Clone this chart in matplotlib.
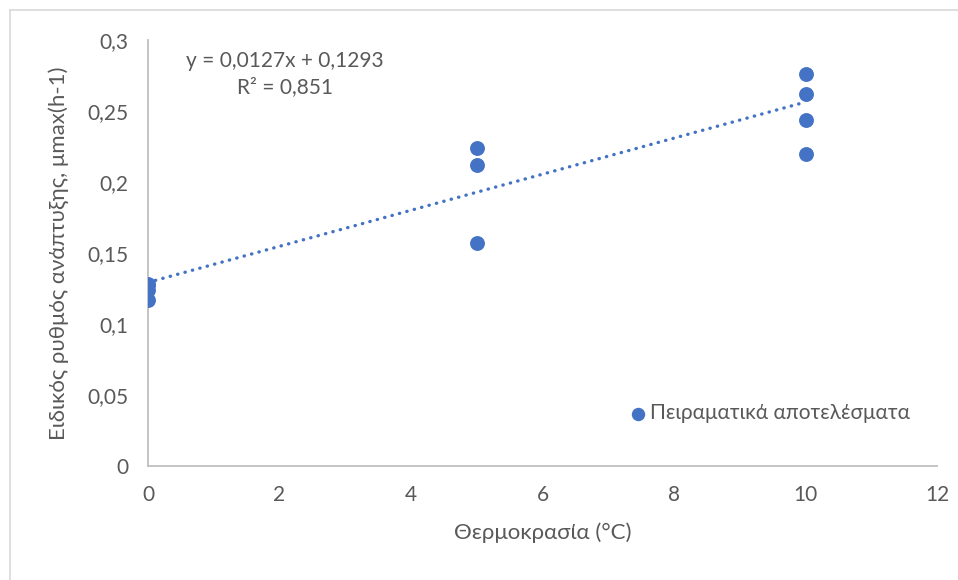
import numpy as np
import matplotlib.pyplot as plt
from matplotlib.lines import Line2D
from matplotlib.ticker import FixedLocator

plt.rcParams["font.family"] = ["Lato", "Open Sans", "DejaVu Sans"]

# πειραματικά δεδομένα (θερμοκρασία, μmax)
temp_c = [0, 0, 0, 0, 5, 5, 5, 10, 10, 10, 10]
mu_max = [0.1275, 0.128, 0.124, 0.117, 0.224, 0.212, 0.157, 0.276, 0.262, 0.2437, 0.220]

# γραμμή τάσης όπως δίνεται στο διάγραμμα
trend_slope = 0.0127
trend_intercept = 0.1293
trend_x = [0, 10]

x_ticks = [0, 2, 4, 6, 8, 10, 12]
y_ticks = [0, 0.05, 0.1, 0.15, 0.2, 0.25, 0.3]
y_tick_labels = ["0", "0,05", "0,1", "0,15", "0,2", "0,25", "0,3"]

BLUE = "#4472C4"
AXIS_GRAY = "#BFBFBF"
TEXT_GRAY = "#595959"

fig = plt.figure(figsize=(9.58, 5.8), dpi=100)
ax = fig.add_axes([148 / 958, 1 - 466 / 580, (937 - 148) / 958, (466 - 40) / 580])

ax.scatter(temp_c, mu_max, s=115, color=BLUE, zorder=3, linewidths=0,
           label="Πειραματικά αποτελέσματα")

tx = np.array(trend_x, dtype=float)
ax.plot(tx, trend_slope * tx + trend_intercept, color=BLUE, lw=2.4,
        linestyle=(0, (0.1, 2.2)), dash_capstyle="round", zorder=2)

ax.set_xlim(0, 12)
ax.set_ylim(0, 0.3)
ax.xaxis.set_major_locator(FixedLocator(x_ticks))
ax.set_yticks(y_ticks)
ax.set_yticklabels(y_tick_labels)

for side in ["top", "right"]:
    ax.spines[side].set_visible(False)
for side in ["left", "bottom"]:
    ax.spines[side].set_color(AXIS_GRAY)
    ax.spines[side].set_linewidth(1.3)

ax.tick_params(axis="both", length=0, labelsize=15, labelcolor=TEXT_GRAY)
ax.tick_params(axis="y", pad=14)
ax.tick_params(axis="x", pad=14)

ax.set_xlabel("Θερμοκρασία (°C)", fontsize=16, color=TEXT_GRAY, labelpad=12)
ax.set_ylabel("Ειδικός ρυθμός ανάπτυξης, μmax(h-1)", fontsize=16,
              color=TEXT_GRAY, labelpad=13)

ax.text(285 / 958, 1 - 74 / 580, "y = 0,0127x + 0,1293\nR² = 0,851",
        transform=fig.transFigure, ha="center", va="center", fontsize=15,
        color=TEXT_GRAY, linespacing=1.35)

ax.legend(loc="lower left", bbox_to_anchor=(629 / 958, 1 - 423 / 580),
          bbox_transform=fig.transFigure, frameon=False, fontsize=15,
          handlelength=0.9, handletextpad=0.1, borderpad=0, borderaxespad=0,
          labelcolor=TEXT_GRAY, markerscale=0.9)

# πλαίσιο γραφήματος
fig.add_artist(Line2D([10 / 958, 10 / 958], [0, 1 - 10 / 580], color="#D9D9D9",
                      lw=1.2, transform=fig.transFigure))
fig.add_artist(Line2D([10 / 958, 1], [1 - 10 / 580, 1 - 10 / 580], color="#D9D9D9",
                      lw=1.2, transform=fig.transFigure))

fig.savefig("out.png", dpi=100)
